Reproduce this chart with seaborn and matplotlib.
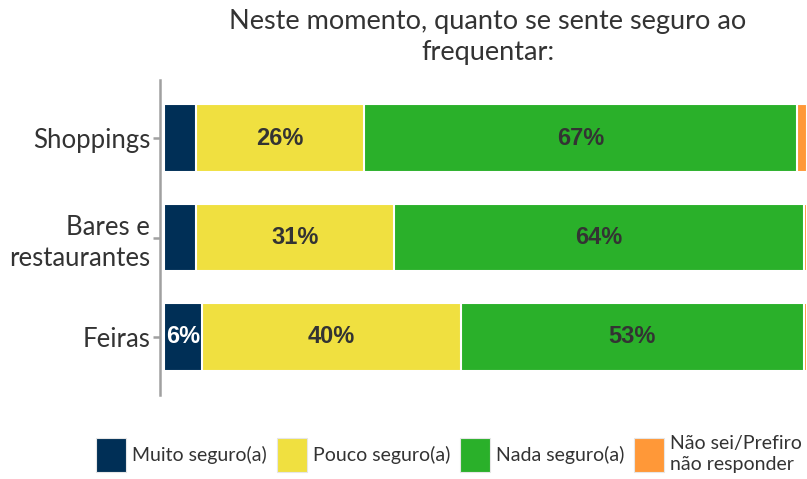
import matplotlib
matplotlib.use("Agg")
import matplotlib.pyplot as plt
import seaborn as sns
import pandas as pd
import numpy as np
from matplotlib.patches import Patch

categories = ["Shoppings", "Bares e\nrestaurantes", "Feiras"]
series_names = ["Muito seguro(a)", "Pouco seguro(a)", "Nada seguro(a)", "Não sei/Prefiro\nnão responder"]
muito = [4.9, 4.9, 5.9]
pouco = [26.2, 30.9, 40.3]
nada = [67.4, 63.7, 53.3]
nao_sei = [1.5, 0.5, 0.5]
colors = ["#002f56", "#f0e040", "#2ab02a", "#ff9838"]
label_colors = ["white", "#333333", "#333333", "#333333"]
title = "Neste momento, quanto se sente seguro ao\nfrequentar:"

sns.set_theme(style="white")
plt.rcParams["font.family"] = ["Lato", "DejaVu Sans"]

series = [muito, pouco, nada, nao_sei]
cum = np.cumsum(np.array(series), axis=0)

fig = plt.figure(figsize=(8.07, 4.79), dpi=100)
ax = fig.add_axes([164 / 807, 1 - 395 / 479, 1 - 164 / 807, (395 - 80) / 479])

# draw cumulative bars from the largest to the smallest
for i in range(len(series) - 1, -1, -1):
    df = pd.DataFrame({"cat": categories, "val": cum[i]})
    sns.barplot(data=df, x="val", y="cat", color=colors[i], orient="h",
                width=0.68, edgecolor="white", linewidth=1.5, ax=ax,
                saturation=1)

for i, vals in enumerate(series):
    starts = cum[i] - np.array(vals)
    for j, v in enumerate(vals):
        if v >= 5.5:
            ax.text(starts[j] + v / 2, j, f"{round(v)}%", ha="center", va="center",
                    fontsize=17, fontweight="bold", color=label_colors[i],
                    family=["Liberation Sans", "DejaVu Sans"])

ax.set_xlim(0, 100)
ax.set_ylim(2.583, -0.583)
ax.set_xlabel("")
ax.set_ylabel("")
ax.set_xticks([])
for s in ["top", "right", "bottom"]:
    ax.spines[s].set_visible(False)
ax.spines["left"].set_color("#a0a0a0")
ax.spines["left"].set_linewidth(1.8)
ax.spines["left"].set_position(("outward", 3))
ax.tick_params(axis="y", which="major", left=True, length=5, width=1.8,
               color="#a0a0a0", labelsize=18.5, labelcolor="#333333", pad=2)
ax.set_yticks(range(len(categories)))
ax.set_yticklabels(categories, ha="right")
for t in ax.get_yticklabels():
    t.set_linespacing(1.3)

fig.text(488 / 807, 1 - 9 / 479, title, ha="center", va="top", fontsize=19.5,
         color="#333333", linespacing=1.3)

handles = [Patch(facecolor=c, edgecolor="#e6e6e6", linewidth=0.8) for c in colors]
leg = fig.legend(handles, series_names, loc="center", bbox_to_anchor=(449 / 807, 1 - 454 / 479),
                 ncol=4, frameon=False, fontsize=14, handlelength=1.55, handleheight=2.3,
                 handletextpad=0.3, columnspacing=0.5, labelcolor="#333333")
for t in leg.get_texts():
    t.set_linespacing(1.25)

fig.savefig("out.png", dpi=100)
